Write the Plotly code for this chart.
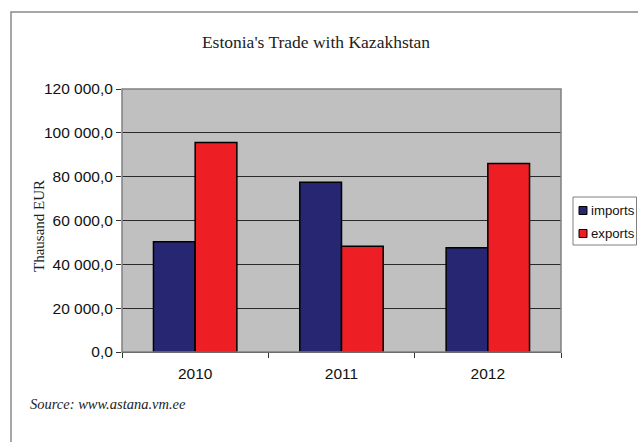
import plotly.graph_objects as go

years = ["2010", "2011", "2012"]
series_names = ["imports", "exports"]
imports = [50300, 77500, 47600]
exports = [95600, 48200, 86000]
y_ticks = [0, 20000, 40000, 60000, 80000, 100000, 120000]
colors = ["#262672", "#ED1F24"]

W, H = 638, 442
# plot area in pixels
L, R, T, B = 122, 561, 89, 352
pw, ph = R - L, B - T

def px(x):
    return (x - L) / pw

def py(y):
    return (B - y) / ph

fig = go.Figure()
for name, vals, col in zip(series_names, [imports, exports], colors):
    fig.add_trace(go.Bar(name=name, x=years, y=vals, showlegend=False,
                         marker=dict(color=col, line=dict(color="#000000", width=1.5))))

fig.update_layout(
    width=W, height=H,
    margin=dict(l=L, r=W - R, t=T, b=H - B, pad=0, autoexpand=False),
    paper_bgcolor="white",
    plot_bgcolor="#C0C0C0",
    barmode="group",
    bargap=0.43,
    bargroupgap=0,
    separators=", ",
    font=dict(family="Liberation Sans, Arial", size=15.5, color="#111111"),
    title=dict(text="Estonia's Trade with Kazakhstan", x=316 / W, xanchor="center",
               y=1 - 41.7 / H, yanchor="middle",
               font=dict(family="Liberation Serif, Times New Roman", size=17.5, color="#222222")),
    showlegend=False,
)

fig.update_yaxes(range=[0, 120000], tickvals=y_ticks, tickformat=",.1f",
                 showgrid=True, gridcolor="#2a2a2a", gridwidth=1,
                 ticks="outside", ticklen=5, tickcolor="#333333",
                 showline=False, zeroline=False,
                 tickfont=dict(size=15.5))
fig.update_xaxes(type="category", ticks="outside", tickson="boundaries", ticklen=5,
                 tickcolor="#333333", showline=True, linecolor="#333333", linewidth=1,
                 showgrid=False, tickfont=dict(size=15.5), ticklabelstandoff=7)

# plot-area border
fig.add_shape(type="rect", xref="paper", yref="paper", x0=0, x1=1, y0=0, y1=1,
              line=dict(color="#808080", width=1.5), layer="above")
# outer chart border (extends past right and bottom edges)
fig.add_shape(type="rect", xref="paper", yref="paper",
              x0=px(11), x1=px(660), y0=py(470), y1=py(12),
              line=dict(color="#8a8a8a", width=1.5))

# compact legend box
fig.add_shape(type="rect", xref="paper", yref="paper",
              x0=px(573), x1=px(636.5), y0=py(245), y1=py(197),
              line=dict(color="#808080", width=1), fillcolor="white")
for i, (name, col) in enumerate(zip(series_names, colors)):
    yc = 210.5 + i * 23
    fig.add_shape(type="rect", xref="paper", yref="paper",
                  x0=px(579), x1=px(587), y0=py(yc + 4), y1=py(yc - 4),
                  line=dict(color="#000000", width=1), fillcolor=col)
    fig.add_annotation(text=name, xref="paper", yref="paper",
                       x=px(589), y=py(yc), xanchor="left", yanchor="middle",
                       showarrow=False,
                       font=dict(family="Liberation Sans, Arial", size=13.2, color="#111111"))

fig.add_annotation(text="Thausand EUR", xref="paper", yref="paper",
                   x=px(39), y=py(226), xanchor="center", yanchor="middle",
                   textangle=-90, showarrow=False,
                   font=dict(family="Liberation Serif, Times New Roman", size=15, color="#222222"))
fig.add_annotation(text="<i>Source: www.astana.vm.ee</i>", xref="paper", yref="paper",
                   x=px(28), y=py(404), xanchor="left", yanchor="middle",
                   showarrow=False,
                   font=dict(family="Liberation Serif, Times New Roman", size=14.5, color="#222222"))

fig.write_html(
    "out.html",
    config={"displayModeBar": False},
    post_script="document.body.style.margin='0';document.body.style.overflow='hidden';",
)
